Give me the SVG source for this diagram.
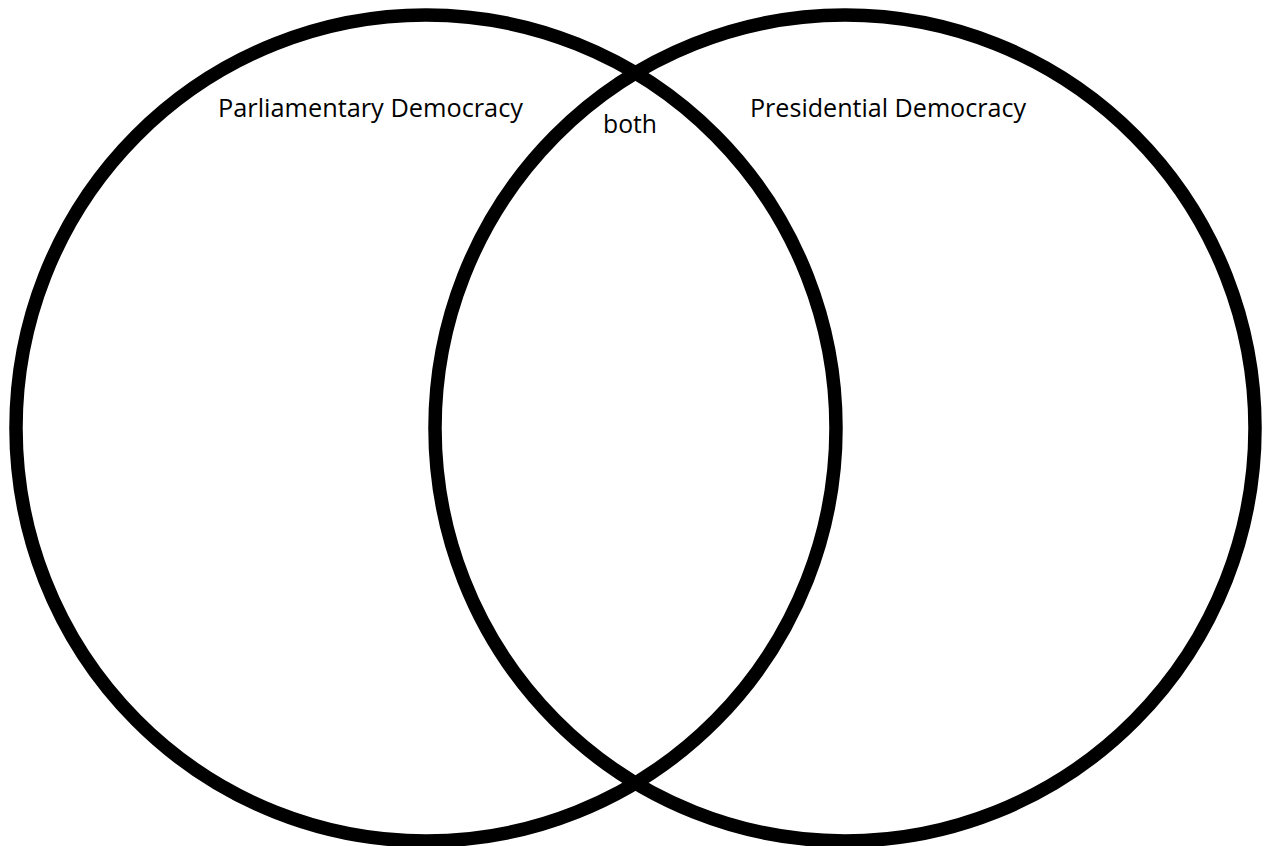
<svg xmlns="http://www.w3.org/2000/svg" width="1264" height="846" viewBox="0 0 1264 846">
  <style>
    .ring { fill: none; stroke: #000; stroke-width: 13.5; }
    .lbl { font-family: "Open Sans", "Liberation Sans", sans-serif; font-size: 26px; fill: #000; }
  </style>
  <rect width="1264" height="846" fill="#fff"/>
  <g id="parliamentary">
    <ellipse class="ring" cx="426" cy="428" rx="410" ry="413"/>
    <text class="lbl" x="218" y="117" textLength="305" lengthAdjust="spacingAndGlyphs">Parliamentary Democracy</text>
  </g>
  <g id="presidential">
    <ellipse class="ring" cx="845" cy="428" rx="410" ry="413"/>
    <text class="lbl" x="750" y="117" textLength="276" lengthAdjust="spacingAndGlyphs">Presidential Democracy</text>
  </g>
  <g id="both">
    <text class="lbl" x="603" y="133" textLength="54" lengthAdjust="spacingAndGlyphs">both</text>
  </g>
  <g id="connectors"></g>
</svg>
